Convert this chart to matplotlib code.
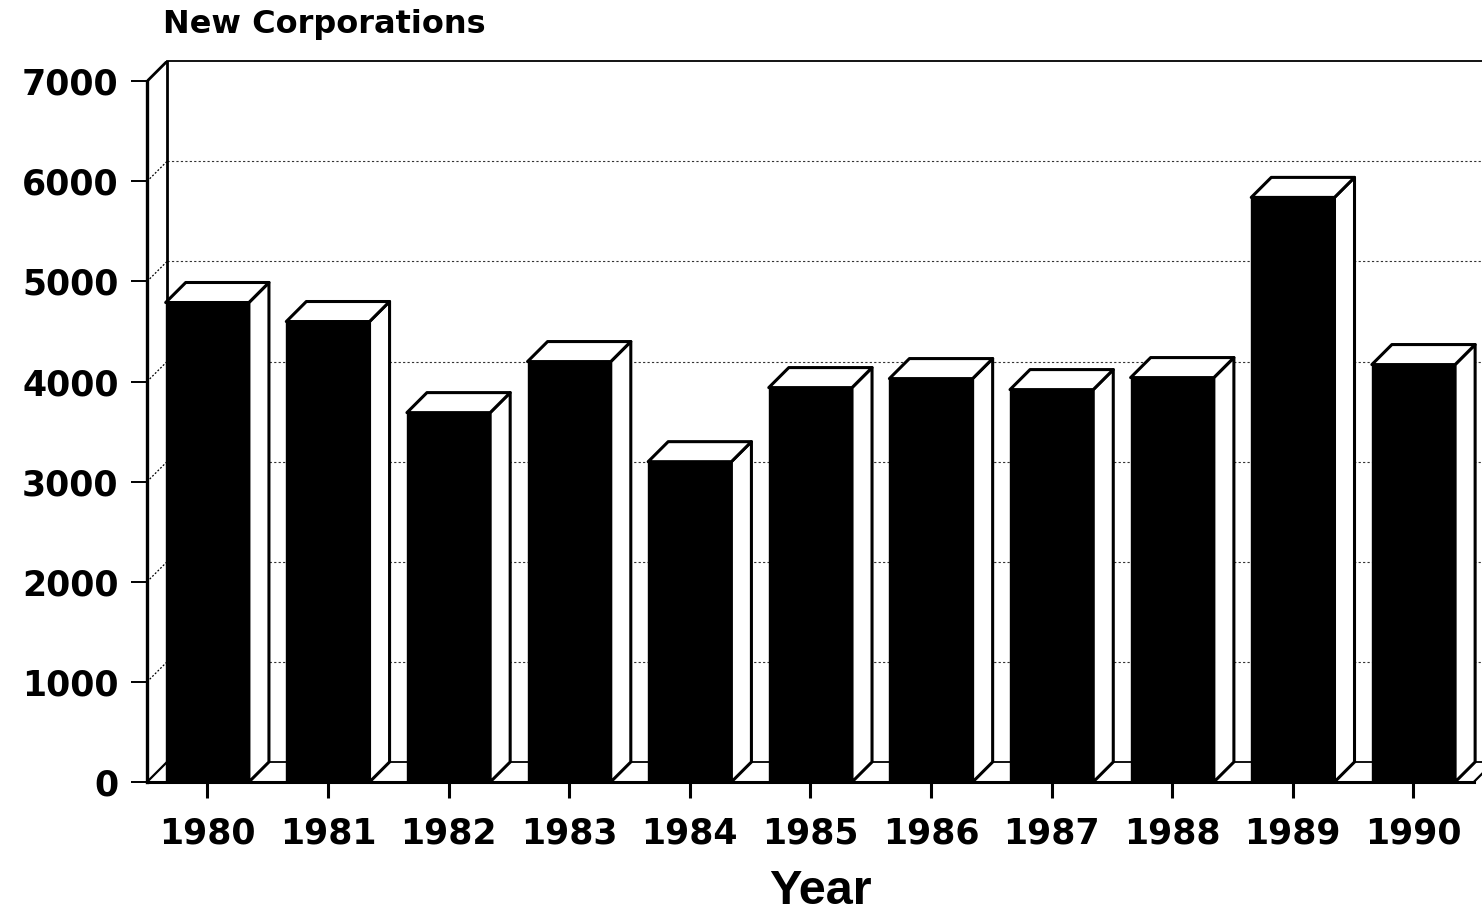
import matplotlib
matplotlib.use('Agg')
import matplotlib.pyplot as plt
from matplotlib.patches import Polygon

# data
years = ['1980', '1981', '1982', '1983', '1984', '1985',
         '1986', '1987', '1988', '1989', '1990']
corporations = [4790, 4600, 3690, 4200, 3200, 3940, 4030, 3920, 4040, 5840, 4170]
y_ticks = [0, 1000, 2000, 3000, 4000, 5000, 6000, 7000]

# fake 3D look
depth_x = 0.166   # in bar slots
depth_y = 200     # in value units
bar_w = 0.69

plt.rcParams['font.family'] = ['DejaVu Sans']
plt.rcParams['font.weight'] = 'bold'

fig = plt.figure(figsize=(14.82, 9.13), dpi=100)
ax = fig.add_axes([147 / 1482, (913 - 782) / 913, (1482 - 147) / 1482, 0.7894])

x = list(range(len(years)))
x_left, x_right = -0.5, len(years) - 0.5
y_top = y_ticks[-1]

ax.set_xlim(x_left, 10.568)
ax.set_ylim(0, y_top + depth_y)

# back wall gridlines (dotted) and the little dotted diagonals on the left wall
for v in y_ticks[1:-1]:
    ax.plot([x_left + depth_x, 10.8], [v + depth_y, v + depth_y],
            color='#333333', lw=0.8, ls=(0, (2, 2)), zorder=1)
    ax.plot([x_left, x_left + depth_x], [v, v + depth_y],
            color='black', lw=0.9, ls=(0, (1.5, 1.5)), zorder=1)

# back wall frame
ax.plot([x_left + depth_x, 10.8], [y_top + depth_y, y_top + depth_y],
        color='black', lw=1.3, zorder=1, clip_on=False)
ax.plot([x_left, x_left + depth_x], [y_top, y_top + depth_y],
        color='black', lw=2.0, zorder=1)
ax.plot([x_left + depth_x, x_left + depth_x], [depth_y, y_top + depth_y],
        color='black', lw=2.0, zorder=1)

# floor
ax.plot([x_left, x_left + depth_x], [0, depth_y], color='black', lw=1.6, zorder=1)
ax.plot([x_left + depth_x, x_right + depth_x], [depth_y, depth_y],
        color='black', lw=1.3, zorder=1)
ax.plot([x_right, x_right + depth_x], [0, depth_y], color='black', lw=1.6, zorder=1)

# bars: black front, white top and side
ax.bar(x, corporations, width=bar_w, color='black', edgecolor='black', lw=1.0, zorder=3)
for xi, v in zip(x, corporations):
    x0 = xi - bar_w / 2
    x1 = xi + bar_w / 2
    top = Polygon([(x0, v), (x1, v), (x1 + depth_x, v + depth_y), (x0 + depth_x, v + depth_y)],
                  closed=True, facecolor='white', edgecolor='black', lw=2.2,
                  joinstyle='round', zorder=4)
    side = Polygon([(x1, 0), (x1, v), (x1 + depth_x, v + depth_y), (x1 + depth_x, depth_y)],
                   closed=True, facecolor='white', edgecolor='black', lw=2.2,
                   joinstyle='round', zorder=4)
    ax.add_patch(side)
    ax.add_patch(top)

# axes look
for s in ['top', 'right']:
    ax.spines[s].set_visible(False)
ax.spines['left'].set_bounds(0, y_top)
ax.spines['left'].set_linewidth(2.4)
ax.spines['bottom'].set_bounds(x_left, x_right)
ax.spines['bottom'].set_linewidth(2.2)
ax.spines['left'].set_zorder(5)
ax.spines['bottom'].set_zorder(5)

ax.set_yticks(y_ticks)
ax.set_yticklabels([str(t) for t in y_ticks])
ax.set_xticks(x)
ax.set_xticklabels(years)
ax.tick_params(axis='y', length=11.5, width=1.4, pad=9, labelsize=25)
ax.tick_params(axis='x', length=11.5, width=2.2, pad=13, labelsize=25)

fig.text(163 / 1482, 1 - 25 / 913, 'New Corporations', ha='left', va='center',
         fontsize=23, fontweight='bold')
fig.text(820 / 1482, 1 - 891 / 913, 'Year', ha='center', va='center',
         fontsize=35, fontweight='bold', family=['Liberation Sans', 'DejaVu Sans'])

fig.savefig('out.png', dpi=100)
